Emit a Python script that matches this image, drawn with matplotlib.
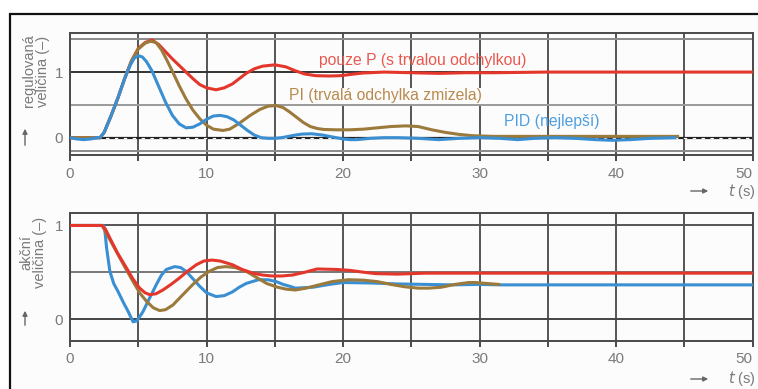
import matplotlib.pyplot as plt
from matplotlib.patches import Rectangle, FancyArrowPatch

plt.rcParams['font.family'] = ['Liberation Sans', 'DejaVu Sans']

# regulovaná veličina (top panel)
t_p_top = [0, 2.2, 2.5, 3.0, 3.5, 4.0, 4.5, 5.0, 5.5, 6.0, 6.5, 7.0, 7.5, 8.0, 8.5, 9.0,
           9.5, 10.0, 10.7, 11.3, 11.9, 12.4, 12.9, 13.5, 14.1, 15.0, 15.8, 16.5, 17.2,
           18.0, 19.0, 19.8, 20.6, 21.4, 23, 25, 27, 29, 31, 35, 50]
y_p_top = [0, 0, 0.08, 0.33, 0.6, 0.9, 1.17, 1.36, 1.45, 1.49, 1.42, 1.31, 1.2, 1.1, 1.0, 0.9,
           0.81, 0.76, 0.73, 0.76, 0.82, 0.9, 0.98, 1.05, 1.09, 1.11, 1.08, 1.02, 0.97,
           0.945, 0.94, 0.945, 0.965, 0.985, 1.0, 0.99, 0.98, 0.99, 0.99, 1.0, 1.0]

t_pi_top = [0, 2.2, 2.5, 3.0, 3.5, 4.0, 4.5, 5.0, 5.5, 5.9, 6.3, 6.7, 7.1, 7.5, 8.0, 8.5,
            9.0, 9.5, 10.0, 10.5, 11.2, 11.7, 12.4, 13.2, 13.9, 14.5, 15.1, 15.6, 16.1,
            16.6, 17.1, 17.6, 18.1, 18.6, 19.5, 20.5, 21.5, 22.5, 23.5, 24.6, 25.5, 26.5,
            27.5, 28.5, 29.5, 31, 33, 36, 40, 44.5]
y_pi_top = [0, 0, 0.08, 0.33, 0.6, 0.9, 1.17, 1.35, 1.44, 1.47, 1.45, 1.34, 1.18, 1.01, 0.79, 0.59,
            0.42, 0.29, 0.19, 0.13, 0.11, 0.13, 0.22, 0.34, 0.43, 0.48, 0.49, 0.46, 0.39,
            0.31, 0.23, 0.17, 0.14, 0.125, 0.12, 0.12, 0.13, 0.15, 0.17, 0.18, 0.17, 0.12,
            0.08, 0.05, 0.03, 0.02, 0.02, 0.02, 0.02, 0.02]

t_pid_top = [0, 0.5, 1.0, 1.5, 2.0, 2.2, 2.5, 3.0, 3.5, 4.0, 4.4, 4.7, 5.0, 5.3, 5.6, 6.0,
             6.5, 7.0, 7.5, 8.0, 8.5, 9.0, 9.5, 10.0, 10.5, 11.0, 11.5, 12.0, 12.5, 13.0,
             13.5, 14.0, 14.5, 15.0, 15.5, 16.0, 16.5, 17.0, 17.7, 18.5, 19.0, 19.5, 20.0,
             20.5, 21.0, 22.0, 23.0, 24.0, 25.5, 27.0, 28.5, 30, 31.5, 32.8, 34, 35.5, 37,
             38.5, 39.7, 41, 42.5, 44.3]
y_pid_top = [0, -0.02, -0.03, -0.02, 0.0, 0.0, 0.08, 0.33, 0.6, 0.9, 1.1, 1.21, 1.25, 1.23, 1.16, 1.02,
             0.78, 0.54, 0.34, 0.21, 0.15, 0.16, 0.21, 0.28, 0.33, 0.34, 0.32, 0.27, 0.19, 0.11,
             0.04, 0.0, -0.01, -0.01, 0.0, 0.02, 0.04, 0.055, 0.06, 0.04, 0.02, 0.0, -0.02,
             -0.03, -0.03, -0.01, 0.0, 0.0, -0.01, -0.03, -0.01, 0.0, -0.01, -0.03, -0.01, 0.0, -0.01,
             -0.03, -0.04, -0.03, -0.01, 0.0]

# akční veličina (bottom panel)
t_p_bot = [0, 2.35, 2.6, 2.92, 3.5, 4.14, 4.6, 5.1, 5.5, 5.84, 6.3, 6.8, 7.4, 8.03, 8.6, 9.25,
           9.8, 10.4, 11.0, 11.9, 12.6, 13.4, 14.1, 14.8, 15.5, 16.3, 17.2, 18.1, 19.5, 20.5,
           21.5, 22.4, 24, 26, 28, 30, 50]
y_p_bot = [1, 1, 0.96, 0.865, 0.7, 0.545, 0.43, 0.33, 0.28, 0.26, 0.27, 0.31, 0.37, 0.44, 0.51, 0.58,
           0.62, 0.63, 0.62, 0.58, 0.53, 0.49, 0.47, 0.46, 0.46, 0.47, 0.5, 0.535, 0.53, 0.52,
           0.5, 0.485, 0.48, 0.49, 0.49, 0.49, 0.49]

t_pi_bot = [0, 2.35, 2.8, 3.4, 4.0, 4.62, 5.1, 5.6, 6.1, 6.57, 7.0, 7.54, 8.2, 9.0, 9.6, 10.2,
            10.8, 11.4, 12.1, 12.9, 13.6, 14.4, 15.2, 15.8, 16.5, 17.3, 18.1, 19.2, 20.4, 21.5,
            22.5, 23.5, 24.5, 25.5, 26.3, 27.2, 28.2, 29.2, 29.7, 30.5, 31.4]
y_pi_bot = [1, 1, 0.88, 0.72, 0.56, 0.40, 0.28, 0.19, 0.12, 0.09, 0.1, 0.15, 0.25, 0.37, 0.45, 0.51,
            0.55, 0.56, 0.55, 0.51, 0.45, 0.38, 0.34, 0.32, 0.31, 0.33, 0.36, 0.40, 0.42, 0.415,
            0.40, 0.37, 0.345, 0.33, 0.33, 0.34, 0.37, 0.39, 0.39, 0.38, 0.37]

t_pid_bot = [0, 2.45, 2.55, 2.68, 2.92, 3.2, 3.53, 3.9, 4.26, 4.62, 4.9, 5.35, 5.85, 6.33, 6.7,
             7.06, 7.66, 8.1, 8.5, 9.0, 9.5, 10.0, 10.7, 11.3, 11.9, 12.4, 12.9, 13.8, 14.5,
             15.1, 15.6, 16.1, 16.5, 17.8, 19, 20, 22, 24, 26, 28, 30, 31.5, 50]
y_pid_bot = [1, 1, 0.95, 0.76, 0.51, 0.38, 0.29, 0.18, 0.08, -0.03, -0.02, 0.08, 0.23, 0.37, 0.47,
             0.53, 0.56, 0.55, 0.51, 0.43, 0.35, 0.28, 0.24, 0.25, 0.29, 0.34, 0.38, 0.42, 0.42,
             0.40, 0.37, 0.35, 0.33, 0.34, 0.37, 0.39, 0.385, 0.375, 0.37, 0.365, 0.37, 0.365, 0.365]

red = '#e4372c'
brown = '#9b7a3c'
blue = '#3a8fd3'
tick_col = '#7a7a7a'

fig = plt.figure(figsize=(7.58, 3.89), dpi=100)
fig.patch.set_facecolor('white')

# frame around both panels
frame = Rectangle((10 / 758, -0.01), 1, 1.01 - 14 / 389, transform=fig.transFigure,
                  facecolor='#fcfcfc', edgecolor='#111111', lw=1.6, zorder=-5)
fig.add_artist(frame)

left, width = 70 / 758, 682.7 / 758
ax1 = fig.add_axes([left, 1 - 155.4 / 389, width, 122.7 / 389])
ax2 = fig.add_axes([left, 1 - 341 / 389, width, 127.7 / 389])


def style(ax, ylo, yhi, hlines):
    ax.set_facecolor('none')
    ax.set_xlim(0, 50)
    ax.set_ylim(ylo, yhi)
    for s in ax.spines.values():
        s.set_color('#4a4a4a')
        s.set_linewidth(1.4)
    ax.set_xticks(range(0, 51, 10))
    ax.set_xticks(range(5, 50, 10), minor=True)
    ax.set_yticks([0, 1])
    ax.tick_params(axis='x', which='both', direction='out', length=4, width=1.4,
                   color='#4a4a4a', labelcolor=tick_col, labelsize=11, pad=4)
    ax.tick_params(axis='y', length=0, labelcolor=tick_col, labelsize=11, pad=5)
    ax.grid(axis='x', which='both', color='#555555', lw=1.4)
    for y, c in hlines:
        ax.axhline(y, color=c, lw=1.4, zorder=1)
    ax.set_axisbelow(True)
    ax.get_xticklabels()[-1].set_horizontalalignment('right')


style(ax1, -0.27, 1.6, [(1.5, '#8a8a8a'), (1, '#333333'), (0.5, '#9a9a9a'), (-0.21, '#8a8a8a')])
style(ax2, -0.235, 1.13, [(1, '#555555'), (0.5, '#777777'), (0, '#444444')])

# dashed zero line in the top panel
ax1.axhline(0, color='#222222', lw=1.6, zorder=1)
ax1.axhline(0, color='white', lw=0.8, dashes=(3, 5), zorder=1.5)

lw = 2.2
ax1.plot(t_p_top, y_p_top, color=red, lw=lw, zorder=3)
ax1.plot(t_pi_top, y_pi_top, color=brown, lw=lw, zorder=4)
ax1.plot(t_pid_top, y_pid_top, color=blue, lw=lw, zorder=5)

ax2.plot(t_pid_bot, y_pid_bot, color=blue, lw=lw, zorder=3)
ax2.plot(t_pi_bot, y_pi_bot, color=brown, lw=lw, zorder=4)
ax2.plot(t_p_bot, y_p_bot, color=red, lw=lw, zorder=5)

ax1.text(18.25, 1.18, 'pouze P (s trvalou odchylkou)', color='#e85a50', fontsize=11.3,
         va='center', ha='left', zorder=6)
ax1.text(16.05, 0.64, 'PI (trvalá odchylka zmizela)', color='#b88a4e', fontsize=11.3,
         va='center', ha='left', zorder=6,
         bbox=dict(facecolor='#fcfcfc', edgecolor='none', pad=0.5))
ax1.text(31.75, 0.25, 'PID (nejlepší)', color='#4f9fe0', fontsize=11.3,
         va='center', ha='left', zorder=6)

# axis captions
fig.text(36 / 758, 1 - 71 / 389, 'regulovaná\nveličina (–)', rotation=90, color=tick_col,
         fontsize=10.5, ha='center', va='center', linespacing=1.0)
fig.text(33 / 758, 1 - 252 / 389, 'akční\nveličina (–)', rotation=90, color=tick_col,
         fontsize=10.5, ha='center', va='center', linespacing=1.0)

arrow = dict(arrowstyle='-|>', color='#666666', lw=1.0, mutation_scale=7)
for y0, y1 in [(148, 126), (328, 308)]:
    fig.add_artist(FancyArrowPatch((25 / 758, 1 - y0 / 389), (25 / 758, 1 - y1 / 389),
                                   transform=fig.transFigure, **arrow))
for yy in [191, 379]:
    fig.add_artist(FancyArrowPatch((688 / 758, 1 - yy / 389), (711 / 758, 1 - yy / 389),
                                   transform=fig.transFigure, **arrow))
    fig.text(756 / 758, 1 - yy / 389, r'$t$ (s)', color=tick_col, fontsize=10.5,
             ha='right', va='center')

fig.savefig('out.png', dpi=100)
